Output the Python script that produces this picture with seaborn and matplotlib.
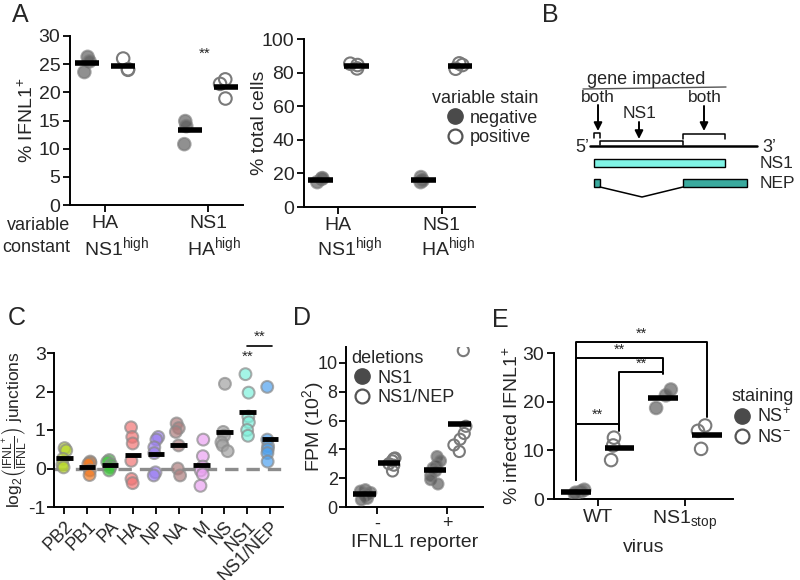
"""Multi-panel figure: IFNL1 induction by influenza NS1 / NEP deletions."""

import matplotlib
matplotlib.use("Agg")
import matplotlib.pyplot as plt
import matplotlib.transforms as mtrans
import numpy as np
import pandas as pd
import seaborn as sns
from matplotlib.lines import Line2D
from matplotlib.patches import Rectangle

sns.set_theme(style="ticks")
plt.rcParams["font.family"] = ["Liberation Sans", "DejaVu Sans"]
plt.rcParams["mathtext.fontset"] = "custom"
plt.rcParams["mathtext.rm"] = "Liberation Sans"
plt.rcParams["mathtext.it"] = "Liberation Sans:italic"
plt.rcParams["mathtext.bf"] = "Liberation Sans:bold"
plt.rcParams["axes.unicode_minus"] = False

W, H = 800, 580

# Panel A: sorted cells
A_VARIABLE = ["HA", "NS1"]
A_CONSTANT = ["NS1", "HA"]
A_STAIN = ["negative", "positive"]
A_IFNL1_HA_NEG = [26.3, 25.5, 23.6]
A_IFNL1_HA_POS = [26.0, 24.0, 24.1]
A_IFNL1_NS1_NEG = [14.9, 14.0, 10.8]
A_IFNL1_NS1_POS = [22.3, 21.5, 18.9]
A_TOTAL_HA_NEG = [16.8, 14.8, 17.2]
A_TOTAL_HA_POS = [84.5, 85.3, 82.5]
A_TOTAL_NS1_NEG = [14.8, 15.8, 17.8]
A_TOTAL_NS1_POS = [84.5, 85.5, 82.3]

# Panel C: junction enrichment per segment
C_GENES = ["PB2", "PB1", "PA", "HA", "NP", "NA", "M", "NS", "NS1", "NS1/NEP"]
C_COLORS = ["#b9d82a", "#f27a22", "#3ec83a", "#f27474", "#9b7ef2",
            "#ad7c7c", "#eba2f2", "#a2a2a2", "#7ef2dc", "#4ea2f0"]
C_PB2 = [0.53, 0.47, 0.25, 0.10, 0.03]
C_PB1 = [0.18, 0.15, 0.12, -0.05, -0.17]
C_PA = [0.22, 0.17, 0.10, 0.03, -0.05]
C_HA = [1.07, 0.82, 0.65, 0.20, -0.27, -0.38]
C_NP = [0.82, 0.75, 0.55, 0.40, -0.10, -0.18]
C_NA = [1.17, 1.05, 0.95, 0.60, 0.00, -0.18]
C_M = [0.75, 0.32, 0.05, -0.05, -0.15, -0.45]
C_NS = [2.20, 0.95, 0.85, 0.68, 0.60, 0.45]
C_NS1 = [2.45, 1.97, 1.35, 1.20, 1.00, 0.85]
C_NS1_NEP = [2.12, 0.75, 0.58, 0.50, 0.40, 0.18]

# Panel D: FPM of deletions
D_REPORTER = ["-", "+"]
D_DELETION = ["NS1", "NS1/NEP"]
D_MINUS_NS1 = [1.2, 1.1, 1.0, 0.9, 0.8, 0.6, 0.5]
D_MINUS_NEP = [3.4, 3.35, 3.2, 3.0, 2.9, 2.5]
D_PLUS_NS1 = [3.5, 3.2, 2.9, 2.7, 2.5, 2.2, 1.9, 1.6]
D_PLUS_NEP = [10.85, 5.6, 5.1, 4.7, 4.3, 3.85]

# Panel E: infected IFNL1+ cells
E_VIRUS = ["WT", "NS1stop"]
E_STAIN = ["NS+", "NS-"]
E_WT_POS = [1.9, 1.6, 1.3, 1.0]
E_WT_NEG = [12.6, 11.0, 8.0]
E_STOP_POS = [22.5, 21.3, 18.7]
E_STOP_NEG = [15.1, 14.0, 10.3]

FILL = "#555555"
OPEN_EDGE = "#7a7a7a"


def long_df(groups, xname, hname, yname):
    """Build a tidy frame from {(x, hue): values}."""
    rows = [(x, h, v) for (x, h), vals in groups.items() for v in vals]
    return pd.DataFrame(rows, columns=[xname, hname, yname])


def px_axes(fig, x0, y0, x1, y1):
    """Axes placed by pixel box (top-left origin)."""
    return fig.add_axes([x0 / W, 1 - y1 / H, (x1 - x0) / W, (y1 - y0) / H])


def two_group_strip(ax, df, x, y, hue, order, hue_order, width, jitter, size,
                    bar=0.12):
    """Dodged strip plot, first hue filled, second hue open."""
    sns.stripplot(data=df, x=x, y=y, hue=hue, order=order, hue_order=hue_order,
                  palette={hue_order[0]: FILL, hue_order[1]: "white"},
                  dodge=True, jitter=jitter, size=size,
                  alpha=0.65, linewidth=1.5, edgecolor=OPEN_EDGE,
                  legend=False, ax=ax, zorder=3)
    scale = width / 0.8  # seaborn dodges within a 0.8 wide slot
    for coll in ax.collections:
        off = coll.get_offsets()
        if len(off):
            centre = np.round(off[:, 0])
            off[:, 0] = centre + (off[:, 0] - centre) * scale
            coll.set_offsets(off)
        fc = coll.get_facecolor()
        if len(fc) and np.all(fc[:, :3] > 0.95):
            coll.set_facecolor("none")
            coll.set_edgecolor(OPEN_EDGE)
            coll.set_alpha(1)
    # mean bars
    means = df.groupby([x, hue])[y].mean()
    for i, cat in enumerate(order):
        for j, h in enumerate(hue_order):
            pos = i + (j - 0.5) * width / 2
            ax.hlines(means[(cat, h)], pos - bar, pos + bar,
                      color="black", lw=4, zorder=5)


def style_axes(ax, fs=14, pad=3):
    sns.despine(ax=ax)
    ax.tick_params(labelsize=fs, length=5, width=1.3, pad=pad, color="black")
    for s in ("left", "bottom"):
        ax.spines[s].set_linewidth(1.4)
        ax.spines[s].set_color("black")
    ax.set_xlabel("")
    ax.set_ylabel("")


def ylabel_at(fig, ax, text, xpx, fs=14):
    trans = mtrans.blended_transform_factory(fig.transFigure, ax.transAxes)
    ax.text(xpx / W, 0.5, text, rotation=90, ha="center", va="center",
            fontsize=fs, transform=trans)


def constant_row(fig, ax):
    """Second tick-label row: the segment held at high expression."""
    tr = mtrans.blended_transform_factory(ax.transData, fig.transFigure)
    tr = mtrans.offset_copy(tr, fig=fig, x=-21, y=0, units="dots")
    for i, c in enumerate(A_CONSTANT):
        ax.text(i, 1 - 247 / H, c + r"$^{\mathregular{high}}$", ha="left",
                va="center", fontsize=14, transform=tr)


def stain_legend(ax, labels, title, anchor_px, alignment):
    handles = [Line2D([], [], ls="", marker="o", ms=11, mfc="#4a4a4a",
                      mec="#4a4a4a", label=labels[0]),
               Line2D([], [], ls="", marker="o", ms=10, mfc="none",
                      mec="#555555", mew=1.6, label=labels[1])]
    ax.legend(handles=handles, title=title, frameon=False,
              fontsize=13, title_fontsize=13, alignment=alignment,
              loc="upper left",
              bbox_to_anchor=(anchor_px[0] / W, 1 - anchor_px[1] / H),
              bbox_transform=ax.figure.transFigure, borderpad=0,
              borderaxespad=0, handlelength=1.2, handletextpad=0.25,
              labelspacing=0.15)


def main():
    np.random.seed(3)
    fig = plt.figure(figsize=(8, 5.8), dpi=100)

    # ---------- Panel B schematic (overlay in pixel coords) ----------
    ov = fig.add_axes([0, 0, 1, 1])
    ov.set_xlim(0, W)
    ov.set_ylim(H, 0)
    ov.axis("off")
    ov.text(646, 80, "gene impacted", ha="center", va="center", fontsize=13)
    ov.plot([583, 726], [89, 87], color="#555555", lw=1)
    for xt, yt, t in [(598, 97, "both"), (705, 97, "both"), (640, 114, "NS1")]:
        ov.text(xt, yt, t, ha="center", va="center", fontsize=12.5)
    for xa, y0, y1 in [(598, 105, 131), (639, 122, 139), (704, 106, 131)]:
        ov.annotate("", xy=(xa, y1), xytext=(xa, y0),
                    arrowprops=dict(arrowstyle="-|>", lw=1.4, color="black",
                                    mutation_scale=12, shrinkA=0, shrinkB=0))
    ov.plot([594, 594, 600, 600], [138, 133, 133, 138], color="black", lw=1.1)
    ov.plot([600, 600, 683, 683], [145, 141, 141, 145], color="black", lw=1.1)
    ov.plot([683, 683, 725, 725], [139, 134, 134, 139], color="black", lw=1.1)
    ov.plot([590, 757], [146, 146], color="black", lw=1.8)
    ov.text(582, 147, "5\u2019", ha="center", va="center", fontsize=13)
    ov.text(769, 147, "3\u2019", ha="center", va="center", fontsize=13)
    ov.add_patch(Rectangle((594, 159), 131, 8, fc="#80f4e6", ec="black", lw=1))
    ov.add_patch(Rectangle((594, 179), 6, 8, fc="#3aaa9e", ec="black", lw=1))
    ov.add_patch(Rectangle((683, 179), 64, 8, fc="#3aaa9e", ec="black", lw=1))
    ov.plot([600, 642, 683], [187, 197, 187], color="black", lw=1.1)
    ov.text(760, 163, "NS1", ha="left", va="center", fontsize=12.5)
    ov.text(760, 183, "NEP", ha="left", va="center", fontsize=12.5)

    # ---------- Panel A left ----------
    dfa = long_df({("HA", "negative"): A_IFNL1_HA_NEG,
                   ("HA", "positive"): A_IFNL1_HA_POS,
                   ("NS1", "negative"): A_IFNL1_NS1_NEG,
                   ("NS1", "positive"): A_IFNL1_NS1_POS},
                  "variable", "stain", "value")
    ax = px_axes(fig, 70, 36, 243, 205)
    two_group_strip(ax, dfa, "variable", "value", "stain", A_VARIABLE,
                    A_STAIN, width=0.7, jitter=0.14, size=9)
    style_axes(ax, pad=2)
    ax.set(xlim=(-0.34, 1.34), ylim=(0, 30), yticks=range(0, 31, 5))
    ax.set_xticks([0, 1], A_VARIABLE)
    ax.text(0.97, 26.8, "**", ha="center", va="center", fontsize=11)
    ylabel_at(fig, ax, "% IFNL1$^{+}$", 27)
    constant_row(fig, ax)
    fig.text(70 / W, 1 - 225 / H, "variable", ha="right", va="center", fontsize=13)
    fig.text(70 / W, 1 - 247 / H, "constant", ha="right", va="center", fontsize=13)

    # ---------- Panel A right ----------
    dft = long_df({("HA", "negative"): A_TOTAL_HA_NEG,
                   ("HA", "positive"): A_TOTAL_HA_POS,
                   ("NS1", "negative"): A_TOTAL_NS1_NEG,
                   ("NS1", "positive"): A_TOTAL_NS1_POS},
                  "variable", "stain", "value")
    ax = px_axes(fig, 304, 39, 475, 207)
    two_group_strip(ax, dft, "variable", "value", "stain", A_VARIABLE,
                    A_STAIN, width=0.7, jitter=0.14, size=9)
    style_axes(ax, pad=2)
    ax.set(xlim=(-0.33, 1.32), ylim=(0, 100), yticks=range(0, 101, 20))
    ax.set_xticks([0, 1], A_VARIABLE)
    ylabel_at(fig, ax, "% total cells", 260)
    constant_row(fig, ax)
    stain_legend(ax, A_STAIN, "variable stain", (432, 90), "right")

    # ---------- Panel C ----------
    dfc = long_df({(g, g): v for g, v in zip(
        C_GENES, [C_PB2, C_PB1, C_PA, C_HA, C_NP, C_NA, C_M, C_NS, C_NS1,
                  C_NS1_NEP])}, "gene", "hue", "value")
    ax = px_axes(fig, 54, 353, 283, 507)
    ax.axhline(0, color="#8c8c8c", lw=2.4, ls=(0, (4, 2.4)), zorder=1)
    sns.stripplot(data=dfc, x="gene", y="value", hue="gene", order=C_GENES,
                  hue_order=C_GENES, palette=dict(zip(C_GENES, C_COLORS)),
                  jitter=0.15, size=8.5, alpha=0.7, linewidth=1.5,
                  edgecolor="#8a8a8a", legend=False, ax=ax, zorder=3)
    means = dfc.groupby("gene")["value"].mean()
    for i, g in enumerate(C_GENES):
        ax.hlines(means[g], i - 0.36, i + 0.36, color="black", lw=3.5, zorder=5)
    style_axes(ax, fs=14, pad=1)
    ax.set(xlim=(-0.45, 9.56), ylim=(-1, 3), yticks=range(-1, 4))
    ax.set_xticks(range(len(C_GENES)))
    ax.set_xticklabels(C_GENES, rotation=45, ha="right", rotation_mode="anchor",
                       fontsize=13)
    ax.tick_params(axis="x", pad=3)
    ax.text(8, 2.9, "**", ha="center", va="center", fontsize=11)
    ax.plot([8, 9.1], [3.17, 3.17], color="black", lw=1.2, clip_on=False)
    ax.text(8.55, 3.42, "**", ha="center", va="center", fontsize=11)
    ylabel_at(fig, ax, r"$\mathregular{log}_2\left(\frac{\mathregular{IFNL}^{+}}"
              r"{\mathregular{IFNL}^{-}}\right)$ junctions", 14, fs=12.5)

    # ---------- Panel D ----------
    dfd = long_df({("-", "NS1"): D_MINUS_NS1, ("-", "NS1/NEP"): D_MINUS_NEP,
                   ("+", "NS1"): D_PLUS_NS1, ("+", "NS1/NEP"): D_PLUS_NEP},
                  "reporter", "deletion", "value")
    ax = px_axes(fig, 346, 347, 483, 507)
    two_group_strip(ax, dfd, "reporter", "value", "deletion", D_REPORTER,
                    D_DELETION, width=0.7, jitter=0.22, size=8, bar=0.16)
    style_axes(ax, fs=13, pad=1)
    ax.set(xlim=(-0.44, 1.51), ylim=(0, 11.1), yticks=range(0, 11, 2))
    ax.set_xticks([0, 1], D_REPORTER)
    ax.set_xlabel("IFNL1 reporter", fontsize=14, labelpad=1)
    ylabel_at(fig, ax, "FPM (10$^{2}$)", 313)
    stain_legend(ax, D_DELETION, "deletions", (351, 350), "left")

    # ---------- Panel E ----------
    dfe = long_df({("WT", "NS+"): E_WT_POS, ("WT", "NS-"): E_WT_NEG,
                   ("NS1stop", "NS+"): E_STOP_POS,
                   ("NS1stop", "NS-"): E_STOP_NEG},
                  "virus", "staining", "value")
    ax = px_axes(fig, 554, 353, 733, 499)
    two_group_strip(ax, dfe, "virus", "value", "staining", E_VIRUS, E_STAIN,
                    width=1.0, jitter=0.18, size=9, bar=0.17)
    style_axes(ax, pad=2)
    ax.set(xlim=(-0.5, 1.55), ylim=(0, 30), yticks=range(0, 31, 10))
    ax.set_xticks([0, 1], ["WT", r"NS1$_{\mathregular{stop}}$"])
    ax.set_xlabel("virus", fontsize=14, labelpad=5)
    ylabel_at(fig, ax, "% infected IFNL1$^{+}$", 512)
    brackets = [([-0.25, -0.25, 1.25, 1.25], [3.9, 32.2, 32.2, 16.9]),
                ([-0.25, -0.25, 0.75, 0.75], [3.9, 28.9, 28.9, 26.3]),
                ([0.25, 0.25, 0.75, 0.75], [13.9, 26.0, 26.0, 25.6]),
                ([-0.25, -0.25, 0.25, 0.25], [3.9, 15.4, 15.4, 14.4])]
    for xs, ys in brackets:
        ax.plot(xs, ys, color="black", lw=1.4, clip_on=False, zorder=2)
        ax.text((xs[0] + xs[-1]) / 2, ys[1] + 0.4, "**", ha="center",
                va="bottom", fontsize=10.5)
    stain_legend(ax, ["NS$^{+}$", "NS$^{-}$"], "staining", (731, 388), "left")

    # panel letters
    for xl, yl, t in [(20, 15, "A"), (550, 15, "B"), (17, 318, "C"),
                      (302, 318, "D"), (500, 320, "E")]:
        fig.text(xl / W, 1 - yl / H, t, ha="center", va="center", fontsize=18)

    fig.savefig("out.png", dpi=100)


if __name__ == "__main__":
    main()
